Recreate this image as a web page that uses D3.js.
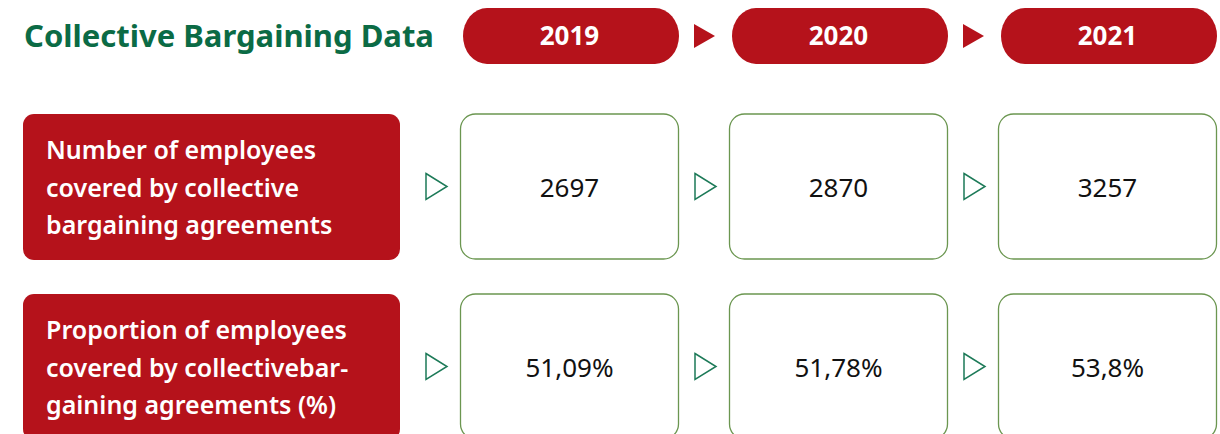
<!DOCTYPE html>
<html>
<head>
<meta charset="utf-8">
<script src="https://cdn.jsdelivr.net/npm/d3@7"></script>
<style>
  body { margin: 0; background: #fff; }
  svg { display: block; font-family: "Noto Sans", "Open Sans", sans-serif; }
</style>
</head>
<body>
<svg width="1220" height="434"></svg>
<script>
// Data
var years = ['2019', '2020', '2021'];
var rowKeys = ['count', 'share'];
var rowLabels = [
  ['Number of employees', 'covered by collective', 'bargaining agreements'],
  ['Proportion of employees', 'covered by collectivebar-', 'gaining agreements (%)']
];
var countValues = ['2697', '2870', '3257'];
var shareValues = ['51,09%', '51,78%', '53,8%'];
var title = 'Collective Bargaining Data';

var red = '#b5121b', green = '#0b6b45', boxStroke = '#6b9650', arrowGreen = '#1d7a58';

var svg = d3.select('svg');
var width = +svg.attr('width'), height = +svg.attr('height');

//Column scale for the three years, row scale for the two indicators.
var xScale = d3.scaleBand()
  .domain(years)
  .range([460, 1217])
  .paddingInner(50 / 269);
var yScale = d3.scaleBand()
  .domain(rowKeys)
  .range([114, 440])
  .paddingInner(34 / 180);

var rowValues = {count: countValues, share: shareValues};

//Title.
svg.append('text')
  .attr('x', 24)
  .attr('y', 47)
  .attr('fill', green)
  .style('font-size', '31px')
  .style('font-weight', 700)
  .text(title);

//Year pills.
var pillTop = 8, pillH = 56;
var pills = svg.selectAll('g.pill')
  .data(years)
  .enter().append('g')
  .attr('class', 'pill');
pills.append('rect')
  .attr('x', function(d) { return xScale(d) + 3; })
  .attr('y', pillTop)
  .attr('width', xScale.bandwidth() - 3)
  .attr('height', pillH)
  .attr('rx', 24)
  .attr('ry', 28)
  .attr('fill', red);
pills.append('text')
  .attr('x', function(d) { return xScale(d) + xScale.bandwidth() / 2; })
  .attr('y', pillTop + pillH / 2)
  .attr('dy', '0.35em')
  .attr('text-anchor', 'middle')
  .attr('fill', '#fff')
  .style('font-size', '26px')
  .style('font-weight', 700)
  .text(function(d) { return d; });

//Filled arrows between the pills.
svg.selectAll('path.head-arrow')
  .data(years.slice(1))
  .enter().append('path')
  .attr('class', 'head-arrow')
  .attr('fill', red)
  .attr('d', function(d) {
    var cx = xScale(d) - 25, cy = pillTop + pillH / 2;
    return 'M' + (cx - 10) + ',' + (cy - 12) + 'L' + (cx + 11) + ',' + cy + 'L' + (cx - 10) + ',' + (cy + 12) + 'Z';
  });

//Rows.
var rows = svg.selectAll('g.row')
  .data(rowKeys)
  .enter().append('g')
  .attr('class', 'row')
  .attr('transform', function(d) { return 'translate(0,' + yScale(d) + ')'; });

rows.append('rect')
  .attr('x', 23)
  .attr('y', 0)
  .attr('width', 377)
  .attr('height', yScale.bandwidth())
  .attr('rx', 11)
  .attr('fill', red);

rows.append('text')
  .attr('fill', '#fff')
  .style('font-size', '25px')
  .style('font-weight', 600)
  .selectAll('tspan')
  .data(function(d, i) { return rowLabels[i]; })
  .enter().append('tspan')
  .attr('x', 46)
  .attr('y', function(d, i) { return 45 + i * 37.5; })
  .text(function(d) { return d; });

var cells = rows.selectAll('g.cell')
  .data(function(d) { return years.map(function(y, j) { return {year: y, value: rowValues[d][j]}; }); })
  .enter().append('g')
  .attr('class', 'cell');

cells.append('path')
  .attr('fill', 'none')
  .attr('stroke', arrowGreen)
  .attr('stroke-width', 1.5)
  .attr('d', function(d) {
    var cx = xScale(d.year) - 24, cy = yScale.bandwidth() / 2 - 0.5;
    return 'M' + (cx - 10) + ',' + (cy - 13) + 'L' + (cx + 11) + ',' + cy + 'L' + (cx - 10) + ',' + (cy + 13) + 'Z';
  });

cells.append('rect')
  .attr('x', function(d) { return xScale(d.year) + 0.5; })
  .attr('y', 0)
  .attr('width', xScale.bandwidth() - 1)
  .attr('height', yScale.bandwidth() - 1)
  .attr('rx', 15)
  .attr('fill', '#fff')
  .attr('stroke', boxStroke)
  .attr('stroke-width', 1.3);

cells.append('text')
  .attr('x', function(d) { return xScale(d.year) + xScale.bandwidth() / 2; })
  .attr('y', yScale.bandwidth() / 2 + 1)
  .attr('dy', '0.35em')
  .attr('text-anchor', 'middle')
  .attr('fill', '#111')
  .style('font-size', '26px')
  .text(function(d) { return d.value; });
</script>
</body>
</html>
